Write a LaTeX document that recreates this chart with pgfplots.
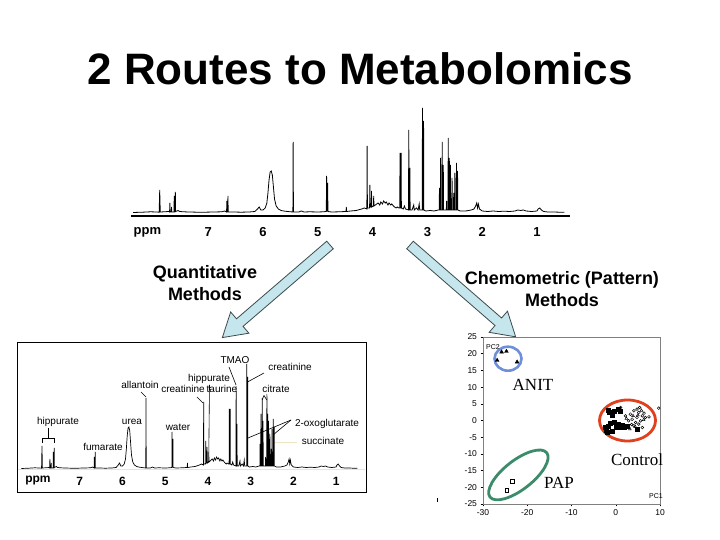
\documentclass[border=0pt]{standalone}
\usepackage{pgfplots}
\pgfplotsset{compat=1.18}
\usepackage{pgfplotstable}
\usepackage{fontspec}
\setmainfont{Liberation Sans}
\newfontfamily\timesfont{Liberation Serif}

\definecolor{arrowfill}{HTML}{C4E6EC}
\definecolor{arrowline}{HTML}{3C4A4C}
\definecolor{anitblue}{HTML}{6F8FDB}
\definecolor{papgreen}{HTML}{3C8C6C}
\definecolor{ctrlred}{HTML}{E0401C}
\definecolor{boxgrey}{HTML}{808080}
\definecolor{paleline}{HTML}{EDE6C4}

% 1H NMR spectrum: chemical shift (ppm), intensity (px above baseline)
\pgfplotstableread{
ppm h
8.37 0.5
8.20 0.8
8.05 1.2
7.95 1.0
7.895 0.8
7.885 23
7.875 1.0
7.80 1.2
7.72 1.5
7.705 1
7.70 10
7.695 1
7.675 1
7.67 6
7.665 1
7.625 1
7.62 17
7.615 1
7.605 1
7.60 21
7.595 1.5
7.55 2.5
7.52 1.5
7.45 1.2
7.35 1.0
7.20 0.8
7.05 0.8
6.90 1.0
6.75 1.2
6.70 2
6.665 1
6.66 12
6.655 1
6.645 1
6.64 17
6.635 1
6.55 1
6.40 0.8
6.25 1.0
6.15 1.5
6.10 4
6.07 6
6.04 3
6.00 3
5.96 5
5.93 10
5.91 20
5.89 33
5.87 41
5.85 42
5.83 38
5.81 26
5.79 14
5.76 7
5.72 4
5.67 2.5
5.60 1.8
5.50 1.2
5.455 1
5.45 71
5.445 1
5.35 1.0
5.30 2
5.25 1
5.15 1.2
5.00 1.0
4.90 1.2
4.845 1.5
4.84 37
4.83 2
4.825 2
4.82 30
4.815 1.5
4.75 1.0
4.60 1.2
4.50 1.5
4.485 1.5
4.48 6
4.475 1.5
4.40 2
4.30 2.5
4.20 4
4.15 5
4.105 4
4.10 67
4.095 5
4.06 5
4.055 5
4.05 28
4.045 6
4.025 6
4.02 22
4.015 6
3.99 7
3.985 7
3.98 17
3.975 7
3.95 8
3.90 10
3.87 8
3.85 11
3.82 9
3.80 12
3.77 10
3.75 11
3.72 8
3.70 10
3.67 8
3.65 9
3.62 7
3.60 6
3.57 5
3.55 6
3.52 5
3.505 5
3.50 60
3.495 5
3.485 5
3.48 60
3.475 5
3.44 4
3.42 7
3.40 4
3.345 3
3.34 83
3.335 3
3.325 3
3.32 45
3.315 3
3.28 3
3.25 8
3.24 3
3.20 5
3.17 3
3.15 9
3.14 3
3.095 3
3.09 105
3.085 3
3.075 3
3.07 92
3.065 3
3.03 2
2.95 2.5
2.88 2
2.80 3
2.785 3
2.78 25
2.775 3
2.765 3
2.76 55
2.755 3
2.735 3
2.73 71
2.725 3
2.715 3
2.71 48
2.705 3
2.67 3
2.655 3
2.65 12
2.645 3
2.625 3
2.62 75
2.615 3
2.605 3
2.60 55
2.595 3
2.585 3
2.58 48
2.575 3
2.555 3
2.55 35
2.545 3
2.525 3
2.52 20
2.515 3
2.505 3
2.50 40
2.495 3
2.475 3
2.47 50
2.465 3
2.455 3
2.45 42
2.445 3
2.40 2
2.30 2
2.20 3
2.15 4
2.12 7
2.10 10
2.085 5
2.07 9
2.05 4
2.00 2
1.90 1.5
1.80 2
1.70 1.5
1.60 1.8
1.50 1.5
1.40 2
1.35 3
1.30 2.5
1.25 3
1.20 2
1.10 1.5
1.00 2
0.98 4
0.95 5
0.92 3
0.88 1.5
0.80 1
0.70 1
0.60 0.8
0.50 0.8
}\spectrum

\begin{document}
\begin{tikzpicture}[x=1pt,y=1pt]
\path[fill=white] (0,0) rectangle (720,540);

% title
\node[anchor=base, font=\bfseries\fontsize{44}{44}\selectfont] at (360,455) {2 Routes to Metabolomics};

% arrows
\draw[fill=arrowfill, draw=arrowline, line width=0.8pt, shift={(330,295)}, rotate=220.7]
  (0,5) -- (119,5) -- (119,14) -- (142,0) -- (119,-14) -- (119,-5) -- (0,-5) -- cycle;
\draw[fill=arrowfill, draw=arrowline, line width=0.8pt, shift={(410,295)}, rotate=-41]
  (0,5) -- (117,5) -- (117,14) -- (140,0) -- (117,-14) -- (117,-5) -- (0,-5) -- cycle;

\begin{scope}[font=\bfseries\fontsize{18}{18}\selectfont]
\node[anchor=base] at (205,261) {Quantitative};
\node[anchor=base] at (205,239) {Methods};
\node[anchor=base] at (562,255) {Chemometric (Pattern)};
\node[anchor=base] at (562,233) {Methods};
\end{scope}

% top spectrum
\begin{axis}[
  at={(131.5pt,324pt)}, anchor=south west, scale only axis,
  width=438.4pt, height=123pt,
  xmin=0.4, xmax=8.4, ymin=-3, ymax=120, x dir=reverse,
  axis x line*=bottom, hide y axis,
  axis line style={line width=1.2pt},
  xtick={1,2,3,4,5,6,7,8.11}, xticklabels={1,2,3,4,5,6,7,ppm},
  major tick length=0pt,
  xticklabel style={anchor=center, yshift=-16pt, font=\bfseries\fontsize{13}{13}\selectfont},
  /pgf/number format/assume math mode=true,
  clip=false]
\addplot[black, line width=0.8pt, sharp plot] table[x=ppm, y=h] {\spectrum};
\end{axis}

% annotated spectrum
\begin{axis}[
  at={(17pt,48pt)}, anchor=south west, scale only axis,
  width=349pt, height=150pt,
  xmin=0.30, xmax=8.47, ymin=-23, ymax=127, x dir=reverse,
  axis line style={line width=0.9pt},
  xtick={1,2,3,4,5,6,7,7.98}, xticklabels={1,2,3,4,5,6,7,ppm},
  ytick=\empty, major tick length=0pt,
  xticklabel style={anchor=center, yshift=11pt, font=\bfseries\fontsize{12}{12}\selectfont},
  /pgf/number format/assume math mode=true]
\draw[paleline, line width=1pt] (axis cs:8.45,-1) -- (axis cs:0.32,-1);
\addplot[black, line width=0.7pt, sharp plot] table[x=ppm, y=h] {\spectrum};
\end{axis}

\begin{scope}[font=\fontsize{10}{12}\selectfont]
\node[anchor=base] at (235,176) {TMAO};
\node[anchor=base] at (290,169) {creatinine};
\node[anchor=base] at (209,158) {hippurate};
\node[anchor=base] at (140,151) {allantoin};
\node[anchor=base] at (183,147) {creatinine};
\node[anchor=base] at (222,147) {taurine};
\node[anchor=base] at (276,147) {citrate};
\node[anchor=base] at (58,115) {hippurate};
\node[anchor=base] at (132,115) {urea};
\node[anchor=base] at (178,109) {water};
\node[anchor=base] at (327,113) {2-oxoglutarate};
\node[anchor=base] at (103,89) {fumarate};
\node[anchor=base] at (323,95) {succinate};
\end{scope}
\begin{scope}[line width=0.6pt]
\draw (48,112) -- (48,102);
\draw (42,97) -- (42,102) -- (54,102) -- (54,97);
\draw (141,148) -- (146,143);
\draw (197,143) -- (203,137);
\draw (209.5,155) -- (208.8,88);
\draw (229,173) -- (236,155);
\draw (264,167) -- (247.5,158);
\draw (264,144.5) -- (262.1,140);
\draw (264,144.5) -- (266.8,140);
\draw (291,120) -- (248,102);
\draw (291,120) -- (273,105);
\draw[paleline, line width=0.8pt] (297,98) -- (275,98);
\end{scope}

% PCA scores plot
\begin{axis}[
  at={(483pt,36pt)}, anchor=south west, scale only axis,
  width=177pt, height=167pt,
  xmin=-30, xmax=10, ymin=-25, ymax=25,
  axis line style={boxgrey, line width=0.6pt},
  xtick={-30,-20,-10,0,10}, ytick={-25,-20,-15,-10,-5,0,5,10,15,20,25},
  xtick pos=bottom, ytick pos=left, tick align=outside,
  major tick length=2.5pt, tick style={black, line width=0.5pt},
  ticklabel style={font=\fontsize{8.5}{8.5}\selectfont},
  /pgf/number format/assume math mode=true,
  clip=false]
\draw[anitblue, line width=2.6pt] (axis cs:-24.35,18.5) ellipse [x radius=13.5pt, y radius=12pt];
\draw[papgreen, line width=2.8pt] (axis cs:-22.0,-16.3) ellipse [x radius=36pt, y radius=14.5pt, rotate=38];
\draw[ctrlred, line width=2.8pt] (axis cs:2.66,0.0) ellipse [x radius=28pt, y radius=20.5pt];
% ANIT
\addplot[only marks, mark=triangle*, mark size=2.2pt, black] coordinates {
  (-25.8,20.5) (-24.7,20.7) (-26.8,18.0) (-22.3,17.5)};
% PAP
\addplot[only marks, mark=square, mark size=1.6pt, black, mark options={line width=0.6pt}] coordinates {
  (-23.4,-18.2) (-24.7,-20.9)};
% control, filled
\addplot[only marks, mark=square*, mark size=2pt, black] coordinates {
  (-1.6,3.1) (-1.4,2.4) (-0.8,1.7) (-0.4,2.9) (0.6,3.3) (0.9,2.7)
  (-2.3,-2.1) (-2.2,-2.9) (-1.6,-1.6) (-0.8,-3.1) (0.0,-1.6) (0.3,-2.1)
  (1.1,-1.9) (1.8,-2.1) (2.6,-1.6) (-0.4,-0.6) (-1.2,-0.9) (0.6,-1.2)
  (-1.9,-3.6) (1.4,-1.4) (4.8,-2.6)};
% control, open
\addplot[only marks, mark=o, mark size=1.4pt, black, mark options={line width=0.5pt}] coordinates {
  (1.1,3.9) (2.2,1.4) (3.3,1.9) (4.1,2.9) (4.8,3.4) (5.2,2.4) (6.0,1.4)
  (6.7,0.9) (7.5,1.1) (3.7,0.4) (4.5,-0.6) (5.2,-1.1) (6.0,-2.1) (2.9,-0.1)
  (4.8,0.9) (5.6,-0.1) (4.1,-1.6) (2.9,-2.1) (5.4,3.9) (6.4,2.2) (3.6,-1.2)
  (9.7,3.7)};
\addplot[only marks, mark=triangle, mark size=1.6pt, black, mark options={line width=0.5pt}] coordinates {
  (2.4,0.6) (3.9,1.4) (5.0,1.6) (4.4,-1.9) (3.2,-2.6) (6.3,0.2) (5.8,3.0)};
\end{axis}

\begin{scope}[font=\fontsize{7}{7}\selectfont]
\node at (493,193) {PC2};
\node at (656,44) {PC1};
\end{scope}
\begin{scope}[font=\timesfont\fontsize{17}{17}\selectfont]
\node at (533,155) {ANIT};
\node at (559,57) {PAP};
\node at (637,80) {Control};
\end{scope}
\draw[line width=0.5pt] (437,38) -- (437,42);
\end{tikzpicture}
\end{document}
